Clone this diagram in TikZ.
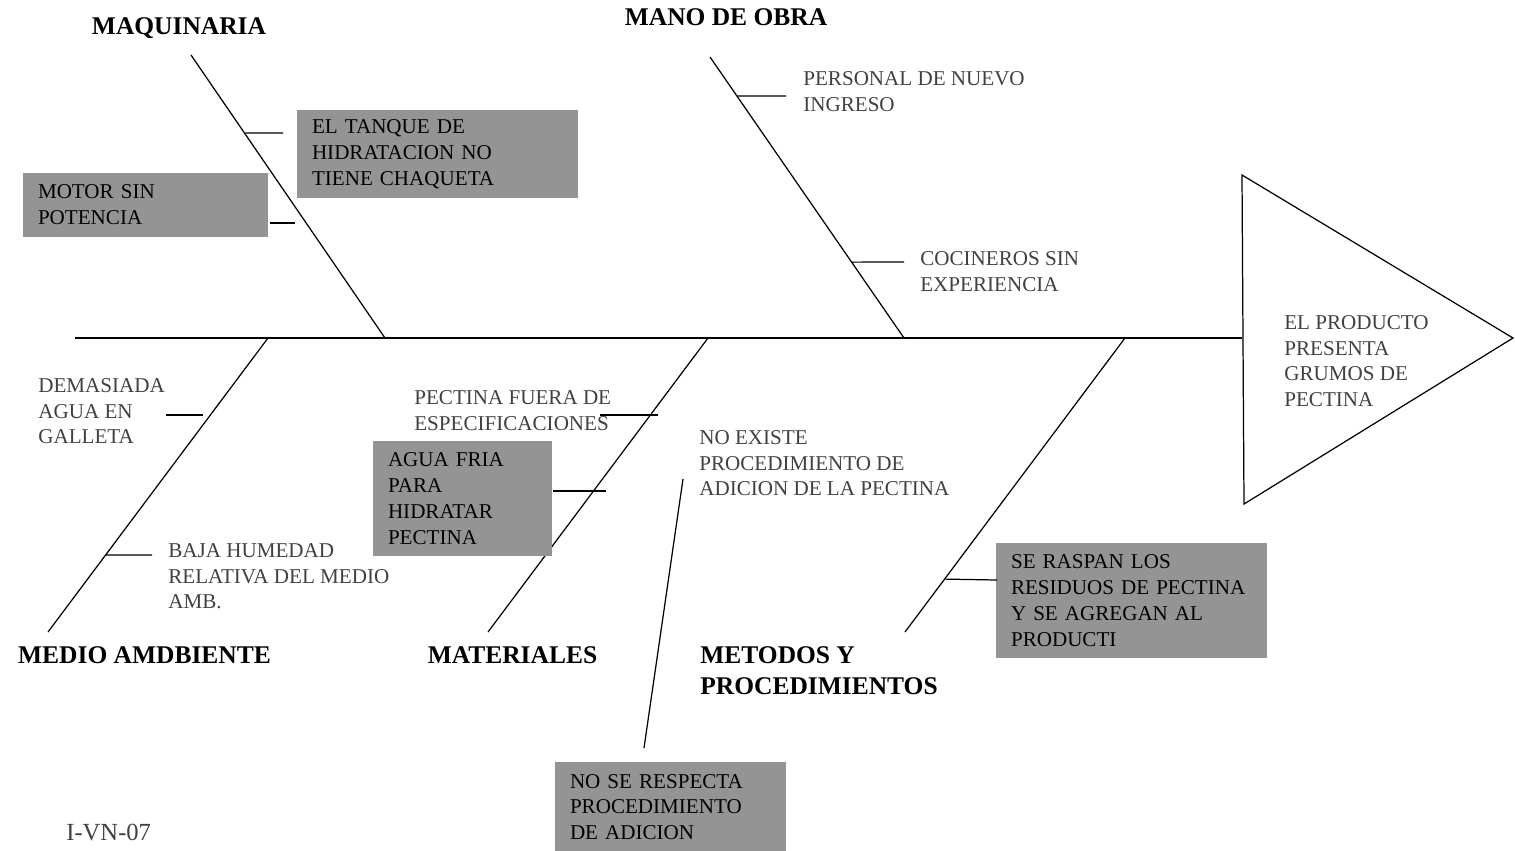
\documentclass[tikz,border=0pt]{standalone}
\usepackage{fontspec}
\setmainfont{Liberation Serif}
\usetikzlibrary{calc}

\begin{document}
\begin{tikzpicture}
  [
    x=0.02cm, y=-0.02cm,
    bone/.style  = {draw, line width=0.7pt},
    head/.style  = {font=\fontsize{14.5}{17.6}\selectfont\bfseries, inner sep=0pt, align=left},
    cause/.style = {font=\fontsize{12}{14.7}\selectfont, text=black!75, inner sep=0pt, align=left, anchor=north west},
    gbox/.style 2 args = {fill=black!42, text width=#1, minimum height=#2, inner xsep=0.3cm, inner ysep=0pt,
                          align=left, font=\fontsize{12}{14.7}\selectfont},
  ]

%Page frame
\useasboundingbox (0,0) rectangle (1515,850);

%Spine and head of the fish
\coordinate (spL)  at (75,338);
\coordinate (triA) at (1242,175);
\coordinate (triM) at (1242,338);
\coordinate (triB) at (1513,338);
\coordinate (triC) at (1244,504);
\draw[bone] (spL) -- (triM);
\draw[bone] (triA) -- (triB) -- (triC) -- cycle;
\node[cause] (efecto) at (1284,315) {EL PRODUCTO\\PRESENTA\\GRUMOS DE\\PECTINA};

%Bone ends
\coordinate (maqT)  at (191,55);   \coordinate (maqB)  at (385,338);
\coordinate (manoT) at (710,57);   \coordinate (manoB) at (904,338);
\coordinate (medT)  at (268,338);  \coordinate (medB)  at (48,632);
\coordinate (matT)  at (708,338);  \coordinate (matB)  at (488,632);
\coordinate (metT)  at (1125,338); \coordinate (metB)  at (905,632);
\coordinate (adA)   at (683,479);  \coordinate (adB)   at (644,748);

\foreach \a/\b in {maqT/maqB, manoT/manoB, medT/medB, matT/matB, metT/metB, adA/adB}
  \draw[bone] (\a) -- (\b);

%Category titles
\node[head] (maq)  at (179,28)    {MAQUINARIA};
\node[head] (mano) at (726,17)    {MANO DE OBRA};
\node[head] (med)  at (144.5,655) {MEDIO AMDBIENTE};
\node[head] (mat)  at (512.5,655) {MATERIALES};
\node[head, anchor=north west] (met) at (700,646.5) {METODOS Y\\PROCEDIMIENTOS};

%Shaded causes
\node[gbox={5.02cm}{1.76cm}] (tanque)   at (437.5,154)   {EL TANQUE DE\\HIDRATACION NO\\TIENE CHAQUETA};
\node[gbox={4.3cm}{1.28cm}]  (motor)    at (145.5,205)   {MOTOR SIN\\POTENCIA};
\node[gbox={2.98cm}{2.3cm}]  (agua)     at (462.5,498.5) {AGUA FRIA\\PARA\\HIDRATAR\\PECTINA};
\node[gbox={4.82cm}{2.3cm}]  (raspan)   at (1131.5,600.5){SE RASPAN LOS\\RESIDUOS DE PECTINA\\Y SE AGREGAN AL\\PRODUCTI};
\node[gbox={4.02cm}{1.8cm}]  (respecta) at (670.5,807)   {NO SE RESPECTA\\PROCEDIMIENTO\\DE ADICION};

%Plain causes
\node[cause] (personal)  at (803,71)  {PERSONAL DE NUEVO\\INGRESO};
\node[cause] (cocineros) at (920,251) {COCINEROS SIN\\EXPERIENCIA};
\node[cause] (demasiada) at (38,378)  {DEMASIADA\\AGUA EN\\GALLETA};
\node[cause] (baja)      at (168,543) {BAJA HUMEDAD\\RELATIVA DEL MEDIO\\AMB.};
\node[cause] (pectina)   at (414,390) {PECTINA FUERA DE\\ESPECIFICACIONES};
\node[cause] (noexiste)  at (699,430) {NO EXISTE\\PROCEDIMIENTO DE\\ADICION DE LA PECTINA};
\node[cause, font=\fontsize{14}{16}\selectfont] (codigo) at (66,824) {I-VN-07};

%Small ticks
\coordinate (k1a) at ($(maqT)!0.276!(maqB)$);   \coordinate (k1b) at (283,133);
\coordinate (k2a) at (270,223);                 \coordinate (k2b) at (295,223);
\coordinate (k3a) at ($(manoT)!0.139!(manoB)$); \coordinate (k3b) at (786,96);
\coordinate (k4a) at ($(manoT)!0.73!(manoB)$);  \coordinate (k4b) at (904,262);
\coordinate (k5a) at (166,415);                 \coordinate (k5b) at (203,415);
\coordinate (k6a) at ($(medT)!0.738!(medB)$);   \coordinate (k6b) at (152,555);
\coordinate (k7a) at (600,415);                 \coordinate (k7b) at (658,415);
\coordinate (k8a) at (553,491);                 \coordinate (k8b) at (606,491);
\coordinate (k9a) at ($(metT)!0.82!(metB)$);    \coordinate (k9b) at (997,580);

\foreach \i in {1,...,9}
  \draw[bone] (k\i a) -- (k\i b);

\end{tikzpicture}
\end{document}
